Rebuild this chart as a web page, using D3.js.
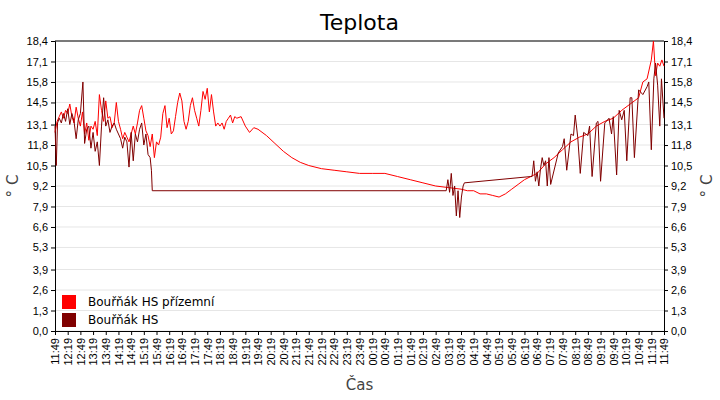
<!DOCTYPE html>
<html><head><meta charset="utf-8">
<script src="https://cdn.jsdelivr.net/npm/d3@7"></script>
<style>body{margin:0;background:#fff}svg{font-family:"DejaVu Sans",sans-serif}</style>
</head><body><div id="c"></div>
<script>
// minute offsets from 11:49 and temperatures
const groundMin = [0,5,10,15,20,25,30,35,40,45,50,55,60,65,70,75,80,85,90,95,100,105,110,115,120,125,130,135,140,145,150,155,160,165,170,175,180,185,190,195,200,205,210,215,220,225,230,235,240,245,250,255,260,265,270,275,280,285,290,295,300,305,310,315,320,325,330,335,340,345,350,355,360,365,370,375,380,385,390,395,400,405,410,415,420,425,430,440,450,460,470,480,500,520,540,560,580,600,630,660,690,720,750,780,810,840,870,900,930,960,975,990,1005,1020,1035,1050,1065,1080,1095,1110,1125,1140,1160,1180,1200,1220,1240,1260,1280,1300,1320,1340,1360,1380,1390,1400,1410,1415,1420,1425,1430,1435,1440];
const groundVal = [12.6,13.3,13.6,13.9,13.5,14.0,13.8,14.4,13.6,13.2,14.2,13.5,13.0,13.9,12.5,13.2,12.1,13.0,12.8,13.3,12.4,15.0,14.0,13.3,14.6,13.5,13.6,12.9,13.2,14.5,13.3,12.8,12.2,12.6,12.3,12.0,12.5,13.0,12.5,13.2,14.0,14.3,13.5,12.7,12.4,11.7,12.5,11.0,12.0,11.8,12.3,13.8,14.3,12.9,13.5,12.5,12.7,13.6,14.5,15.1,14.6,13.3,12.8,13.3,14.3,14.8,14.0,13.5,13.0,14.0,15.2,14.7,15.4,13.9,15.0,13.9,13.0,13.2,13.0,13.2,12.8,13.3,13.5,13.7,13.2,13.6,13.5,13.6,13.0,12.6,12.9,12.8,12.4,11.9,11.4,11.0,10.7,10.5,10.3,10.2,10.1,10.0,10.0,10.0,9.8,9.6,9.4,9.2,9.1,9.0,8.9,8.9,8.7,8.7,8.6,8.5,8.7,9.0,9.3,9.6,9.8,10.0,10.6,11.0,11.5,12.0,12.3,12.5,13.0,13.3,13.5,14.0,14.4,14.8,15.8,16.0,17.2,18.4,16.2,17.0,16.8,17.2,16.8];
const hsMin = [0,3,6,10,15,20,25,30,35,40,45,50,55,60,66,70,75,80,85,90,95,100,105,110,115,120,125,130,135,140,145,150,155,160,165,170,175,180,185,190,195,200,205,210,215,220,225,228,230,925,929,933,937,941,945,949,953,957,961,965,968,1125,1128,1132,1136,1140,1144,1148,1152,1156,1160,1164,1168,1172,1190,1200,1204,1210,1220,1226,1230,1236,1242,1250,1260,1264,1270,1280,1284,1290,1300,1310,1316,1320,1328,1334,1340,1346,1352,1360,1364,1370,1380,1390,1400,1404,1410,1416,1420,1425,1430,1434,1440];
const hsVal = [13.0,10.5,13.2,13.5,13.2,13.8,13.3,14.1,13.1,13.8,13.3,12.2,13.4,13.8,15.8,11.9,12.8,13.0,11.6,12.6,11.4,12.0,10.5,13.0,14.8,13.0,13.4,12.6,13.0,13.2,12.8,12.5,12.2,11.6,12.3,12.0,10.4,12.6,10.8,12.5,12.0,12.8,13.2,11.8,12.5,11.2,11.0,10.2,8.9,8.9,9.6,8.8,10.0,8.6,9.2,7.3,8.9,7.2,8.5,9.2,9.4,9.8,9.8,10.8,9.5,10.1,9.2,10.3,11.0,10.5,10.8,9.2,11.0,9.3,11.3,11.7,12.2,10.2,12.5,12.4,13.7,12.3,10.0,12.6,12.4,13.0,9.8,13.2,13.3,9.5,13.2,13.5,12.5,13.6,9.9,14.0,13.4,14.0,10.8,14.8,14.8,11.0,15.3,15.0,15.5,15.8,11.5,16.0,17.0,15.6,13.0,16.0,13.5,15.8];
const yTicks = [0,1.3,2.6,3.9,5.3,6.6,7.9,9.2,10.5,11.8,13.1,14.5,15.8,17.1,18.4];
const seriesNames = ["Bouřňák HS přízemní", "Bouřňák HS"];
const seriesColors = ["#ff0000", "#800000"];

const W = 720, H = 400, m = {l: 55, r: 56, t: 41, b: 69};
const start = new Date(2020, 0, 1, 11, 49);
const t = mm => new Date(start.getTime() + mm * 60000);
const svg = d3.select("#c").append("svg").attr("width", W).attr("height", H);

const x = d3.scaleTime().domain([t(0), t(1440)]).range([m.l, W - m.r]);
const y = d3.scaleLinear().domain([0, 18.4]).range([H - m.b, m.t]);
const fmt = d => String(d.toFixed(1)).replace(".", ",");

svg.append("g").selectAll("line").data(yTicks).join("line")
  .attr("x1", m.l).attr("x2", W - m.r).attr("y1", y).attr("y2", y)
  .attr("stroke", "#e6e6e6");

svg.append("g").attr("transform", `translate(${m.l},0)`)
  .call(d3.axisLeft(y).tickValues(yTicks).tickFormat(fmt).tickSize(4))
  .call(g => g.selectAll("text").attr("font-size", 11).attr("fill", "#000"));
svg.append("g").attr("transform", `translate(${W - m.r},0)`)
  .call(d3.axisRight(y).tickValues(yTicks).tickFormat(fmt).tickSize(4))
  .call(g => g.selectAll("text").attr("font-size", 11).attr("fill", "#000"));

const xTicks = d3.range(0, 1441, 30).map(t);
svg.append("g").attr("transform", `translate(0,${H - m.b})`)
  .call(d3.axisBottom(x).tickValues(xTicks).tickFormat(d3.timeFormat("%H:%M")).tickSize(4))
  .call(g => g.selectAll("text").attr("font-size", 11).attr("fill", "#000")
    .attr("transform", "rotate(-90)").attr("text-anchor", "end")
    .attr("x", -7).attr("y", 0).attr("dy", "0.35em"));

svg.append("line").attr("x1", m.l).attr("x2", W - m.r).attr("y1", m.t).attr("y2", m.t).attr("stroke", "#000");

const line = d3.line().x(d => x(t(d[0]))).y(d => y(d[1]));
[[groundMin, groundVal], [hsMin, hsVal]].forEach(([mm, vv], i) => {
  svg.append("path").datum(mm.map((v, j) => [v, vv[j]]))
    .attr("fill", "none").attr("stroke", seriesColors[i]).attr("stroke-width", 1)
    .attr("d", line);
});

const lg = svg.append("g").selectAll("g").data(seriesNames).join("g")
  .attr("transform", (d, i) => `translate(62,${295 + i * 18})`);
lg.append("rect").attr("width", 14).attr("height", 14).attr("fill", (d, i) => seriesColors[i]);
lg.append("text").attr("x", 26).attr("y", 11).attr("font-size", 12).text(d => d);

svg.append("text").attr("x", (m.l + W - m.r) / 2).attr("y", 30).attr("text-anchor", "middle")
  .attr("font-size", 22).text("Teplota");
svg.append("text").attr("x", (m.l + W - m.r) / 2).attr("y", 390).attr("text-anchor", "middle")
  .attr("font-size", 15).attr("fill", "#444").text("Čas");
svg.append("text").attr("transform", `translate(18,${(m.t + H - m.b) / 2}) rotate(-90)`)
  .attr("text-anchor", "middle").attr("font-size", 15).attr("fill", "#444").text("° C");
svg.append("text").attr("transform", `translate(712,${(m.t + H - m.b) / 2}) rotate(-90)`)
  .attr("text-anchor", "middle").attr("font-size", 15).attr("fill", "#444").text("° C");
</script></body></html>
